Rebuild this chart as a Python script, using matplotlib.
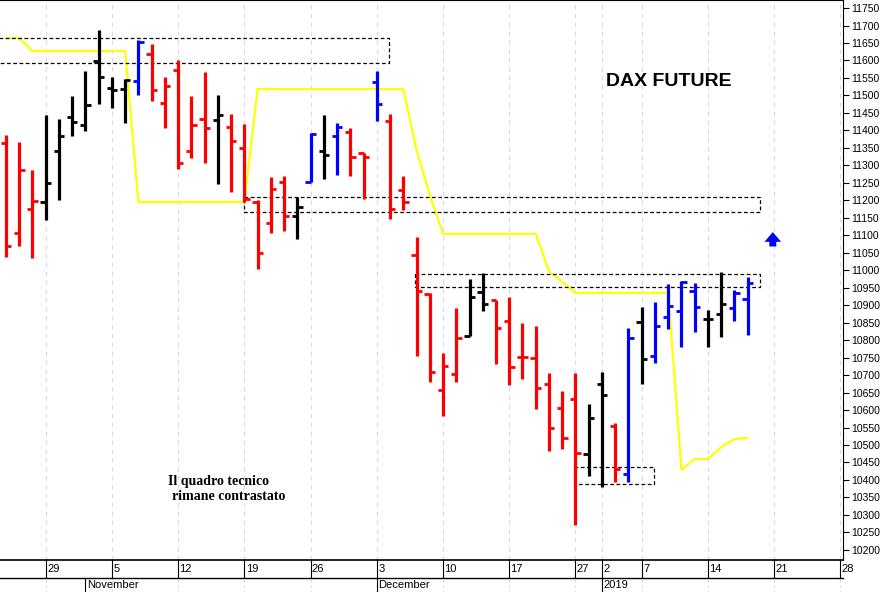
import matplotlib
matplotlib.use("Agg")
import matplotlib.pyplot as plt
import matplotlib.transforms as mtransforms

dates = ["Oct 24","Oct 25","Oct 26","Oct 29","Oct 30","Oct 31","Nov 1","Nov 2",
         "Nov 5","Nov 6","Nov 7","Nov 8","Nov 9","Nov 12","Nov 13","Nov 14","Nov 15","Nov 16",
         "Nov 19","Nov 20","Nov 21","Nov 22","Nov 23","Nov 26","Nov 27","Nov 28","Nov 29","Nov 30",
         "Dec 3","Dec 4","Dec 5","Dec 6","Dec 7","Dec 10","Dec 11","Dec 12","Dec 13","Dec 14",
         "Dec 17","Dec 18","Dec 19","Dec 20","Dec 21","Dec 27","Dec 28",
         "Jan 2","Jan 3","Jan 4","Jan 7","Jan 8","Jan 9","Jan 10","Jan 11",
         "Jan 14","Jan 15","Jan 16","Jan 17"]
opens = [11363,11106,11174,11196,11341,11438,11416,11598,11521,11518,11541,11619,11477,11572,11341,11433,
         11430,11411,11351,11195,11134,11253,11155,11251,11342,11385,11395,11334,11539,11428,11230,
         11043,10931,10656,10702,10812,10939,10915,10856,10753,10750,10674,10605,10631,10474,10674,
         10553,10417,10851,10755,10865,10883,10941,10860,10874,10891,10917]
highs = [11387,11368,11287,11444,11433,11498,11571,11687,11554,11546,11659,11646,11554,11600,11498,11567,
         11501,11446,11418,11201,11266,11270,11209,11392,11444,11420,11408,11336,11571,11446,11270,
         11094,10934,10762,10891,10974,10991,10915,10924,10850,10839,10705,10655,10705,10616,10710,
         10562,10834,10894,10910,10961,10970,10962,10886,10996,10943,10982]
lows = [11039,11068,11034,11144,11201,11385,11399,11475,11463,11422,11501,11484,11408,11289,11320,11306,
        11246,11223,11196,11004,11106,11112,11090,11251,11260,11273,11270,11204,11428,11146,11171,
        10755,10679,10584,10679,10812,10883,10731,10672,10688,10603,10484,10489,10271,10410,10379,
        10393,10393,10674,10734,10832,10779,10822,10779,10808,10856,10815]
closes = [11070,11287,11198,11250,11384,11423,11473,11552,11516,11544,11653,11516,11527,11306,11415,11408,
          11444,11370,11204,11048,11232,11155,11181,11390,11330,11409,11325,11325,11475,11174,11194,
          10941,10708,10726,10807,10922,10902,10834,10724,10753,10662,10548,10519,10478,10576,10643,
          10432,10805,10746,10841,10898,10967,10894,10861,10903,10934,10964]
bar_colors = list("rrrkkkkkkkbrrrrrkrrrrrkbkbrrbrr") + list("rrrrkkrrrrrrrkkrbkbbbbkkbb")
stop_line = [11664,11664,11627,11627,11627,11627,11627,11627,11627,11627,11195,11195,11195,11195,11195,
             11195,11195,11195,11195,11518,11518,11518,11518,11518,11518,11518,11518,11518,11518,11518,
             11518,11344,11215,11104,11104,11104,11104,11104,11104,11104,11104,10998,10966,10935,10935,
             10935,10935,10935,10935,10935,10935,10429,10460,10460,10494,10517,10520]
# zones: (start index, end index, low, high)
zones = [(-1, 28.9, 11593, 11664), (18, 56.9, 11167, 11210), (30.9, 56.9, 10952, 10989), (42.9, 48.9, 10389, 10437)]
day_ticks = [3, 8, 13, 18, 23, 28, 33, 38, 43, 45, 48, 53, 58, 63]
day_labels = ["29", "5", "12", "19", "26", "3", "10", "17", "27", "2", "7", "14", "21", "28"]
month_pos = [6, 28, 45]
month_labels = ["November", "December", "2019"]
ytick_vals = list(range(10200, 11751, 50))

cmap = {"r": "#ff0000", "k": "#000000", "b": "#0000ff"}
fig = plt.figure(figsize=(8.96, 5.92), dpi=100)
ax = fig.add_axes([0, 32/592, 843/896, 560/592])
ax.set_xlim(-0.45, 63.2)
ax.set_ylim(10171, 11773)

for t in day_ticks:
    ax.axvline(t, color="#d8d8ee", lw=0.8, ls=(0, (4, 4)), zorder=0)

ax.plot(range(len(stop_line)), stop_line, color="#ffff00", lw=1.6, zorder=1)

for (x0, x1, lo, hi) in zones:
    ax.plot([x0, x1, x1, x0, x0], [hi, hi, lo, lo, hi], color="k", lw=0.9, ls=(0, (3, 2)), zorder=2)

for i in range(len(opens)):
    c = cmap[bar_colors[i]]
    ax.plot([i, i], [lows[i], highs[i]], color=c, lw=2.3, solid_capstyle="butt", zorder=3)
    ax.plot([i - 0.4, i], [opens[i], opens[i]], color=c, lw=2.0, solid_capstyle="butt", zorder=3)
    ax.plot([i, i + 0.4], [closes[i], closes[i]], color=c, lw=2.0, solid_capstyle="butt", zorder=3)

ax.annotate("", xy=(57.9, 11117), xytext=(57.9, 11060),
            arrowprops=dict(arrowstyle="simple,head_width=1.2,head_length=0.7,tail_width=0.5",
                            color="#0000ff", lw=0))

fig.text(669/896, 1 - 82/592, "DAX FUTURE", fontsize=14, fontweight="bold",
         ha="center", va="center", family="Liberation Sans")
fig.text(218/896, 1 - 482/592, "Il quadro tecnico", fontsize=10, fontweight="bold",
         ha="center", va="center", family="Liberation Serif")
fig.text(229/896, 1 - 497/592, "rimane contrastato", fontsize=10, fontweight="bold",
         ha="center", va="center", family="Liberation Serif")

ax.yaxis.tick_right()
ax.set_yticks(ytick_vals)
ax.set_yticklabels([str(v) for v in ytick_vals], fontsize=7.5, family="Liberation Sans")
ax.tick_params(axis="y", direction="out", length=4, width=0.8, pad=2)
ax.set_xticks([])
ax.spines["left"].set_visible(False)
ax.spines["bottom"].set_linewidth(1.2)

# date axis rows
tr = mtransforms.blended_transform_factory(ax.transData, fig.transFigure)
y_row1 = 1 - 578/592
fig.add_artist(plt.Line2D([0, 843/896], [y_row1, y_row1], color="k", lw=1.0, transform=fig.transFigure))
for t, lab in zip(day_ticks, day_labels):
    fig.add_artist(plt.Line2D([t, t], [32/592, y_row1], color="k", lw=0.8, transform=tr))
    fig.text(t + 0.1, 1 - 569/592, lab, transform=tr, fontsize=8, va="center", ha="left",
             family="Liberation Sans")
    fig.add_artist(plt.Line2D([t, t], [0, y_row1], color="#d8d8ee", lw=0.6, ls=(0, (3, 3)), transform=tr))
for t, lab in zip(month_pos, month_labels):
    fig.add_artist(plt.Line2D([t, t], [0, y_row1], color="k", lw=0.8, transform=tr))
    fig.text(t + 0.1, 1 - 585/592, lab, transform=tr, fontsize=8, va="center", ha="left",
             family="Liberation Sans")

fig.savefig("out.png", dpi=100)
